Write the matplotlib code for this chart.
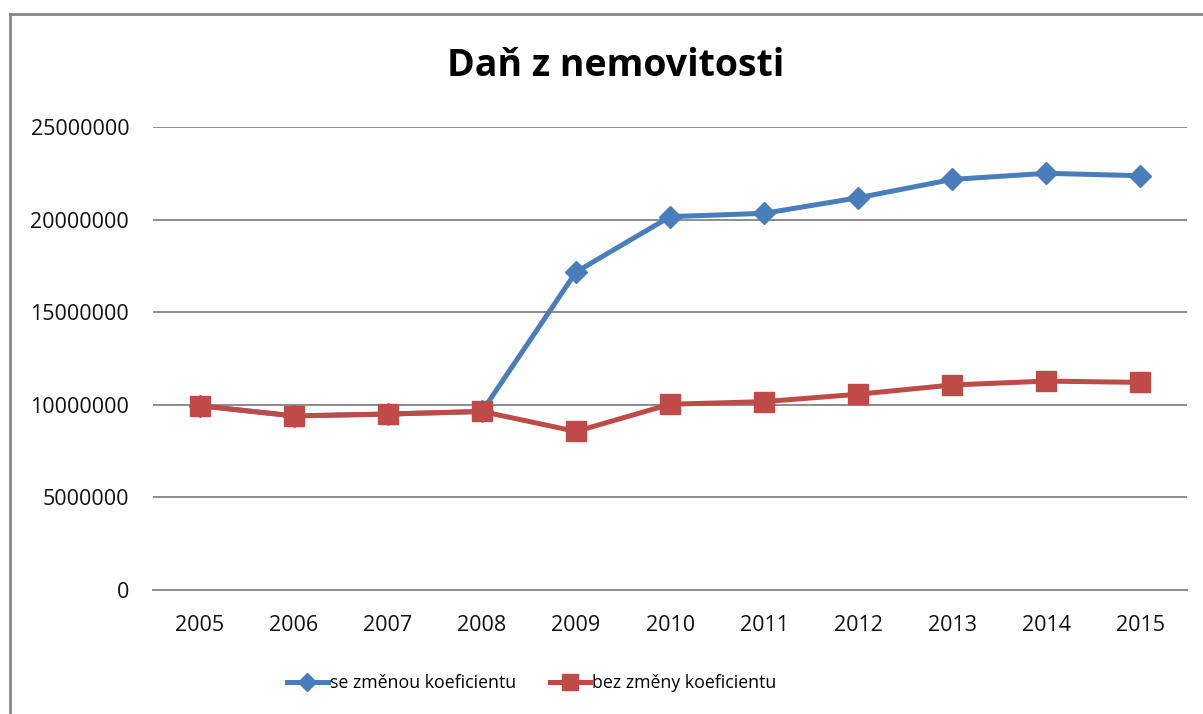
import matplotlib.pyplot as plt
from matplotlib.lines import Line2D

# data
years = ["2005", "2006", "2007", "2008", "2009", "2010",
         "2011", "2012", "2013", "2014", "2015"]
se_zmenou = [9950000, 9400000, 9500000, 9640000, 17170000, 20160000,
             20340000, 21180000, 22170000, 22500000, 22370000]
bez_zmeny = [9950000, 9400000, 9500000, 9640000, 8560000, 10030000,
             10170000, 10570000, 11070000, 11280000, 11210000]
y_ticks = [0, 5000000, 10000000, 15000000, 20000000, 25000000]

blue = "#4A7EBB"
red = "#BE4B48"
grid_col = "#8C8C8C"

plt.rcParams['font.family'] = ['Open Sans', 'DejaVu Sans']

fig = plt.figure(figsize=(12.03, 7.14), dpi=100)
ax = fig.add_axes([0.127, 0.1737, 0.86, 0.6484])

x = list(range(len(years)))
ax.plot(x, se_zmenou, color=blue, lw=3.6, marker="D", ms=11.5,
        label="se změnou koeficientu", zorder=3)
ax.plot(x, bez_zmeny, color=red, lw=3.6, marker="s", ms=15,
        label="bez změny koeficientu", zorder=4)

ax.set_xlim(-0.5, len(years) - 0.5)
ax.set_ylim(0, 25000000)
ax.set_yticks(y_ticks)
ax.set_yticklabels([str(v) for v in y_ticks])
ax.set_xticks(x)
ax.set_xticklabels(years)
ax.yaxis.grid(True, color=grid_col, lw=1.4)
ax.set_axisbelow(True)
for s in ["top", "right", "left"]:
    ax.spines[s].set_visible(False)
ax.spines["bottom"].set_color(grid_col)
ax.spines["bottom"].set_linewidth(1.4)
ax.tick_params(axis="y", length=0, pad=17, labelsize=15.5, colors="#111111")
ax.tick_params(axis="x", length=0, pad=18, labelsize=15.5, colors="#111111")

fig.text(0.512, 0.907, "Daň z nemovitosti", ha="center", va="center",
         fontsize=27, fontweight="bold")

ax.legend(loc="center", bbox_to_anchor=(0.442, 0.043),
          bbox_transform=fig.transFigure, ncol=2, frameon=False,
          fontsize=12.8, handlelength=2.3, columnspacing=1.9,
          handletextpad=0.1, markerscale=0.8)

# outer chart border
fig.add_artist(Line2D([0.0083, 0.0083], [0, 0.980], color="#868686",
                      lw=2, transform=fig.transFigure))
fig.add_artist(Line2D([0.0083, 1.0], [0.980, 0.980], color="#868686",
                      lw=2, transform=fig.transFigure))

fig.savefig("out.png", dpi=100)
